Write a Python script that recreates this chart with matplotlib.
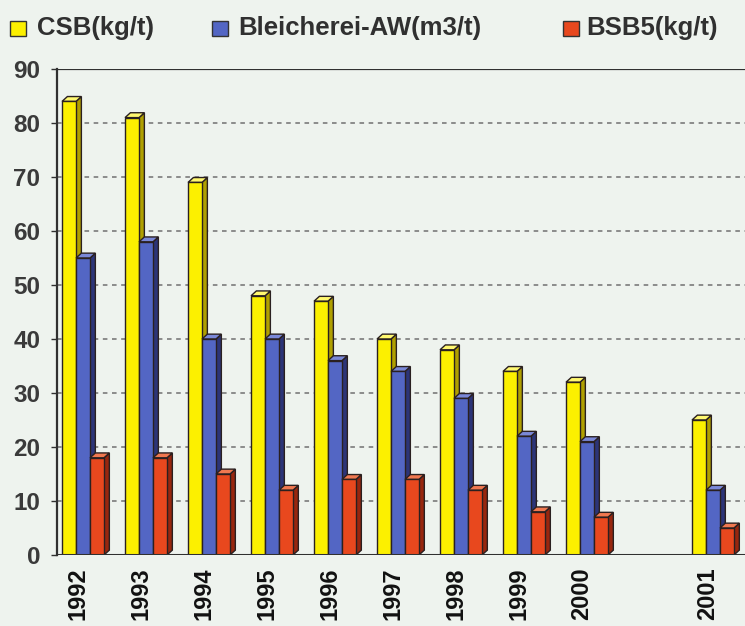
import numpy as np
import matplotlib.pyplot as plt
from matplotlib.patches import Polygon, Rectangle

plt.rcParams['font.family'] = ['Liberation Sans', 'DejaVu Sans']

years = ['1992', '1993', '1994', '1995', '1996', '1997', '1998', '1999', '2000', '2001']
slots = [0, 1, 2, 3, 4, 5, 6, 7, 8, 10]
csb = [84, 81, 69, 48, 47, 40, 38, 34, 32, 25]
bleicherei = [55, 58, 40, 40, 36, 34, 29, 22, 21, 12]
bsb5 = [18, 18, 15, 12, 14, 14, 12, 8, 7, 5]

series = [
    ('CSB(kg/t)', csb, '#fcf000', '#b0a000', '#fff870'),
    ('Bleicherei-AW(m3/t)', bleicherei, '#5366c4', '#2c3478', '#7a88d8'),
    ('BSB5(kg/t)', bsb5, '#e8481e', '#98260e', '#f07850'),
]

bg = '#eef3ee'
edge = '#2a2020'
w = 0.222
dx, dy = 0.085, 0.9

fig = plt.figure(figsize=(7.45, 6.26), dpi=100, facecolor=bg)
ax = fig.add_axes([57 / 745, 1 - 555 / 626, 1 - 57 / 745, (555 - 69) / 626])
ax.set_facecolor(bg)

x = np.array(slots, dtype=float)
ax.set_xlim(-0.413, 10.508)
ax.set_ylim(0, 90)

# dashed grid behind the bars
for g in range(10, 90, 10):
    ax.axhline(g, color='#707070', lw=1.1, ls=(0, (3, 3)), zorder=1)

z = 3
for i, xi in enumerate(x):
    for k, (name, vals, front, side, top) in enumerate(series):
        left = xi - 0.333 + k * w
        v = vals[i]
        ax.bar(left, v, width=w, align='edge', color=front, edgecolor=edge,
               lw=1.0, zorder=z)
        right = left + w
        ax.add_patch(Polygon([(right, 0), (right + dx, dy), (right + dx, v + dy), (right, v)],
                             closed=True, fc=side, ec=edge, lw=1.0, zorder=z - 0.5))
        ax.add_patch(Polygon([(left, v), (left + dx, v + dy), (right + dx, v + dy), (right, v)],
                             closed=True, fc=top, ec=edge, lw=1.0, zorder=z - 0.5))
        z += 1

ax.axhline(0, color='#303030', lw=2.2, zorder=z + 1)
ax.axhline(90, color='#303030', lw=1.6, zorder=z + 1)

for s in ['right', 'bottom', 'top']:
    ax.spines[s].set_visible(False)
ax.spines['left'].set_color('#303030')
ax.spines['left'].set_linewidth(1.6)

ax.set_yticks(range(0, 91, 10))
ax.tick_params(axis='y', length=4, width=1, color='#303030', pad=8,
               labelsize=17.5, labelcolor='#3a3a3a')
for lbl in ax.get_yticklabels():
    lbl.set_fontweight('bold')

ax.set_xticks(x - 0.08)
ax.set_xticklabels(years, rotation=90, fontsize=17, fontweight='bold', color='#111111')
ax.tick_params(axis='x', length=0, pad=9)

# legend row across the top
legend_pos = [(10, 37), (212, 238), (563, 586)]
for (name, vals, front, side, top), (sq, tx) in zip(series, legend_pos):
    fig.patches.append(Rectangle((sq / 745, 1 - 36 / 626), 16 / 745, 15 / 626,
                                 transform=fig.transFigure, fc=front, ec='#333333',
                                 lw=1.0))
    fig.text(tx / 745, 1 - 28.5 / 626, name, fontsize=18.5, fontweight='bold',
             color='#303030', va='center', ha='left')

fig.savefig('out.png', dpi=100, facecolor=bg)
